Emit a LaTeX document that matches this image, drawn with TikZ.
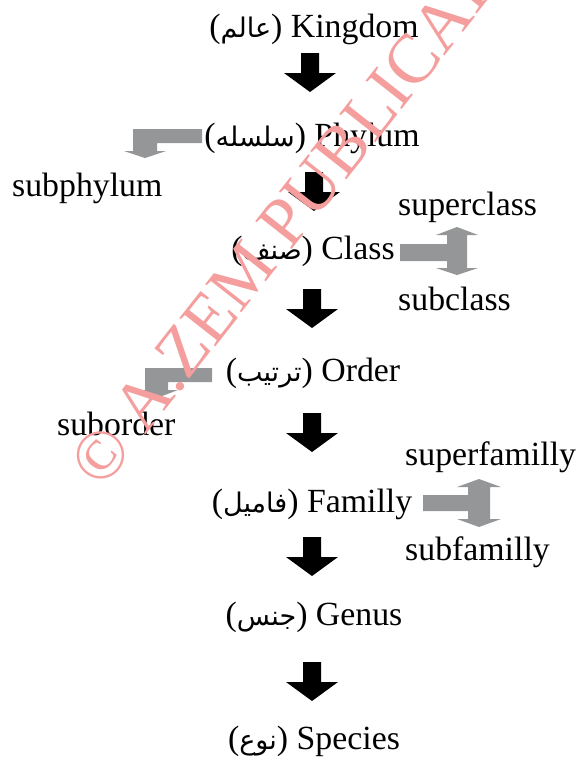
\documentclass[tikz,border=0pt]{standalone}
\usepackage{fontspec}
\setmainfont{Liberation Serif}
\newfontfamily\arabicfont[Script=Arabic,Scale=0.8]{DejaVu Sans}
\TeXXeTstate=1
\newcommand{\arw}[1]{{\arabicfont\beginR #1\endR}}
\definecolor{arrgray}{RGB}{149,150,152}
\definecolor{wmred}{RGB}{245,158,158}
\begin{document}
\begin{tikzpicture}[x=1pt,y=-1pt,
  main/.style={font=\fontsize{33.8}{36}\selectfont, inner sep=0pt, anchor=base},
  side/.style={font=\fontsize{33.8}{36}\selectfont, inner sep=0pt, anchor=base west},
  grayarrow/.style={fill=arrgray},
  downarr/.pic={\fill[black] (-9,0) -- (9,0) -- (9,20) -- (26,20) -- (0,39) -- (-26,20) -- (-9,20) -- cycle;}]
\useasboundingbox (0,0) rectangle (577,761);
\clip (0,0) rectangle (577,761);

% main column
\node[main] (kingdom) at (314,37) {(\arw{عالم}) Kingdom};
\node[main] (phylum) at (312,146) {(\arw{سلسله}) Phylum};
\node[main] (class) at (313,259) {(\arw{صنف}) Class};
\node[main] (order) at (313,381) {(\arw{ترتيب}) Order};
\node[main] (familly) at (312,512) {(\arw{فاميل}) Familly};
\node[main] (genus) at (314,625) {(\arw{جنس}) Genus};
\node[main] (species) at (314,749) {(\arw{نوع}) Species};

% side labels
\node[side] (subphylum) at (12,196) {subphylum};
\node[side] (superclass) at (398,215) {superclass};
\node[side] (subclass) at (398,310) {subclass};
\node[side] (suborder) at (57,435) {suborder};
\node[side] (superfamilly) at (405,465) {superfamilly};
\node[side] (subfamilly) at (405,560) {subfamilly};

% black arrows
\pic at (310,53) {downarr};
\pic at (314,172) {downarr};
\pic at (312,289) {downarr};
\pic at (312,413) {downarr};
\pic at (312,537) {downarr};
\pic at (312,662) {downarr};

% gray bent arrows
\fill[grayarrow] (133,129) -- (202,129) -- (202,143) -- (157,143) -- (157,151)
  -- (166,151) -- (145,158) -- (124,151) -- (133,151) -- cycle;
\fill[grayarrow] (145,368) -- (212,368) -- (212,382) -- (168,382) -- (168,390)
  -- (178,390) -- (157,398) -- (136,390) -- (145,390) -- cycle;

% gray double arrows
\fill[grayarrow] (400,244) -- (447,244) -- (447,235) -- (436,235) -- (457,227)
  -- (478,235) -- (467,235) -- (467,268) -- (478,268) -- (457,275) -- (436,268)
  -- (447,268) -- (447,261) -- (400,261) -- cycle;
\fill[grayarrow] (423,495) -- (468,495) -- (468,487) -- (457,487) -- (479,479)
  -- (501,487) -- (490,487) -- (490,519) -- (501,519) -- (479,527) -- (457,519)
  -- (468,519) -- (468,511) -- (423,511) -- cycle;

% watermark
\node[rotate=51.8, anchor=base west, text=wmred, inner sep=0pt,
  font=\fontsize{70}{70}\selectfont] (wm) at (102,491) {© A.ZEM PUBLICATIONS};
\end{tikzpicture}
\end{document}
